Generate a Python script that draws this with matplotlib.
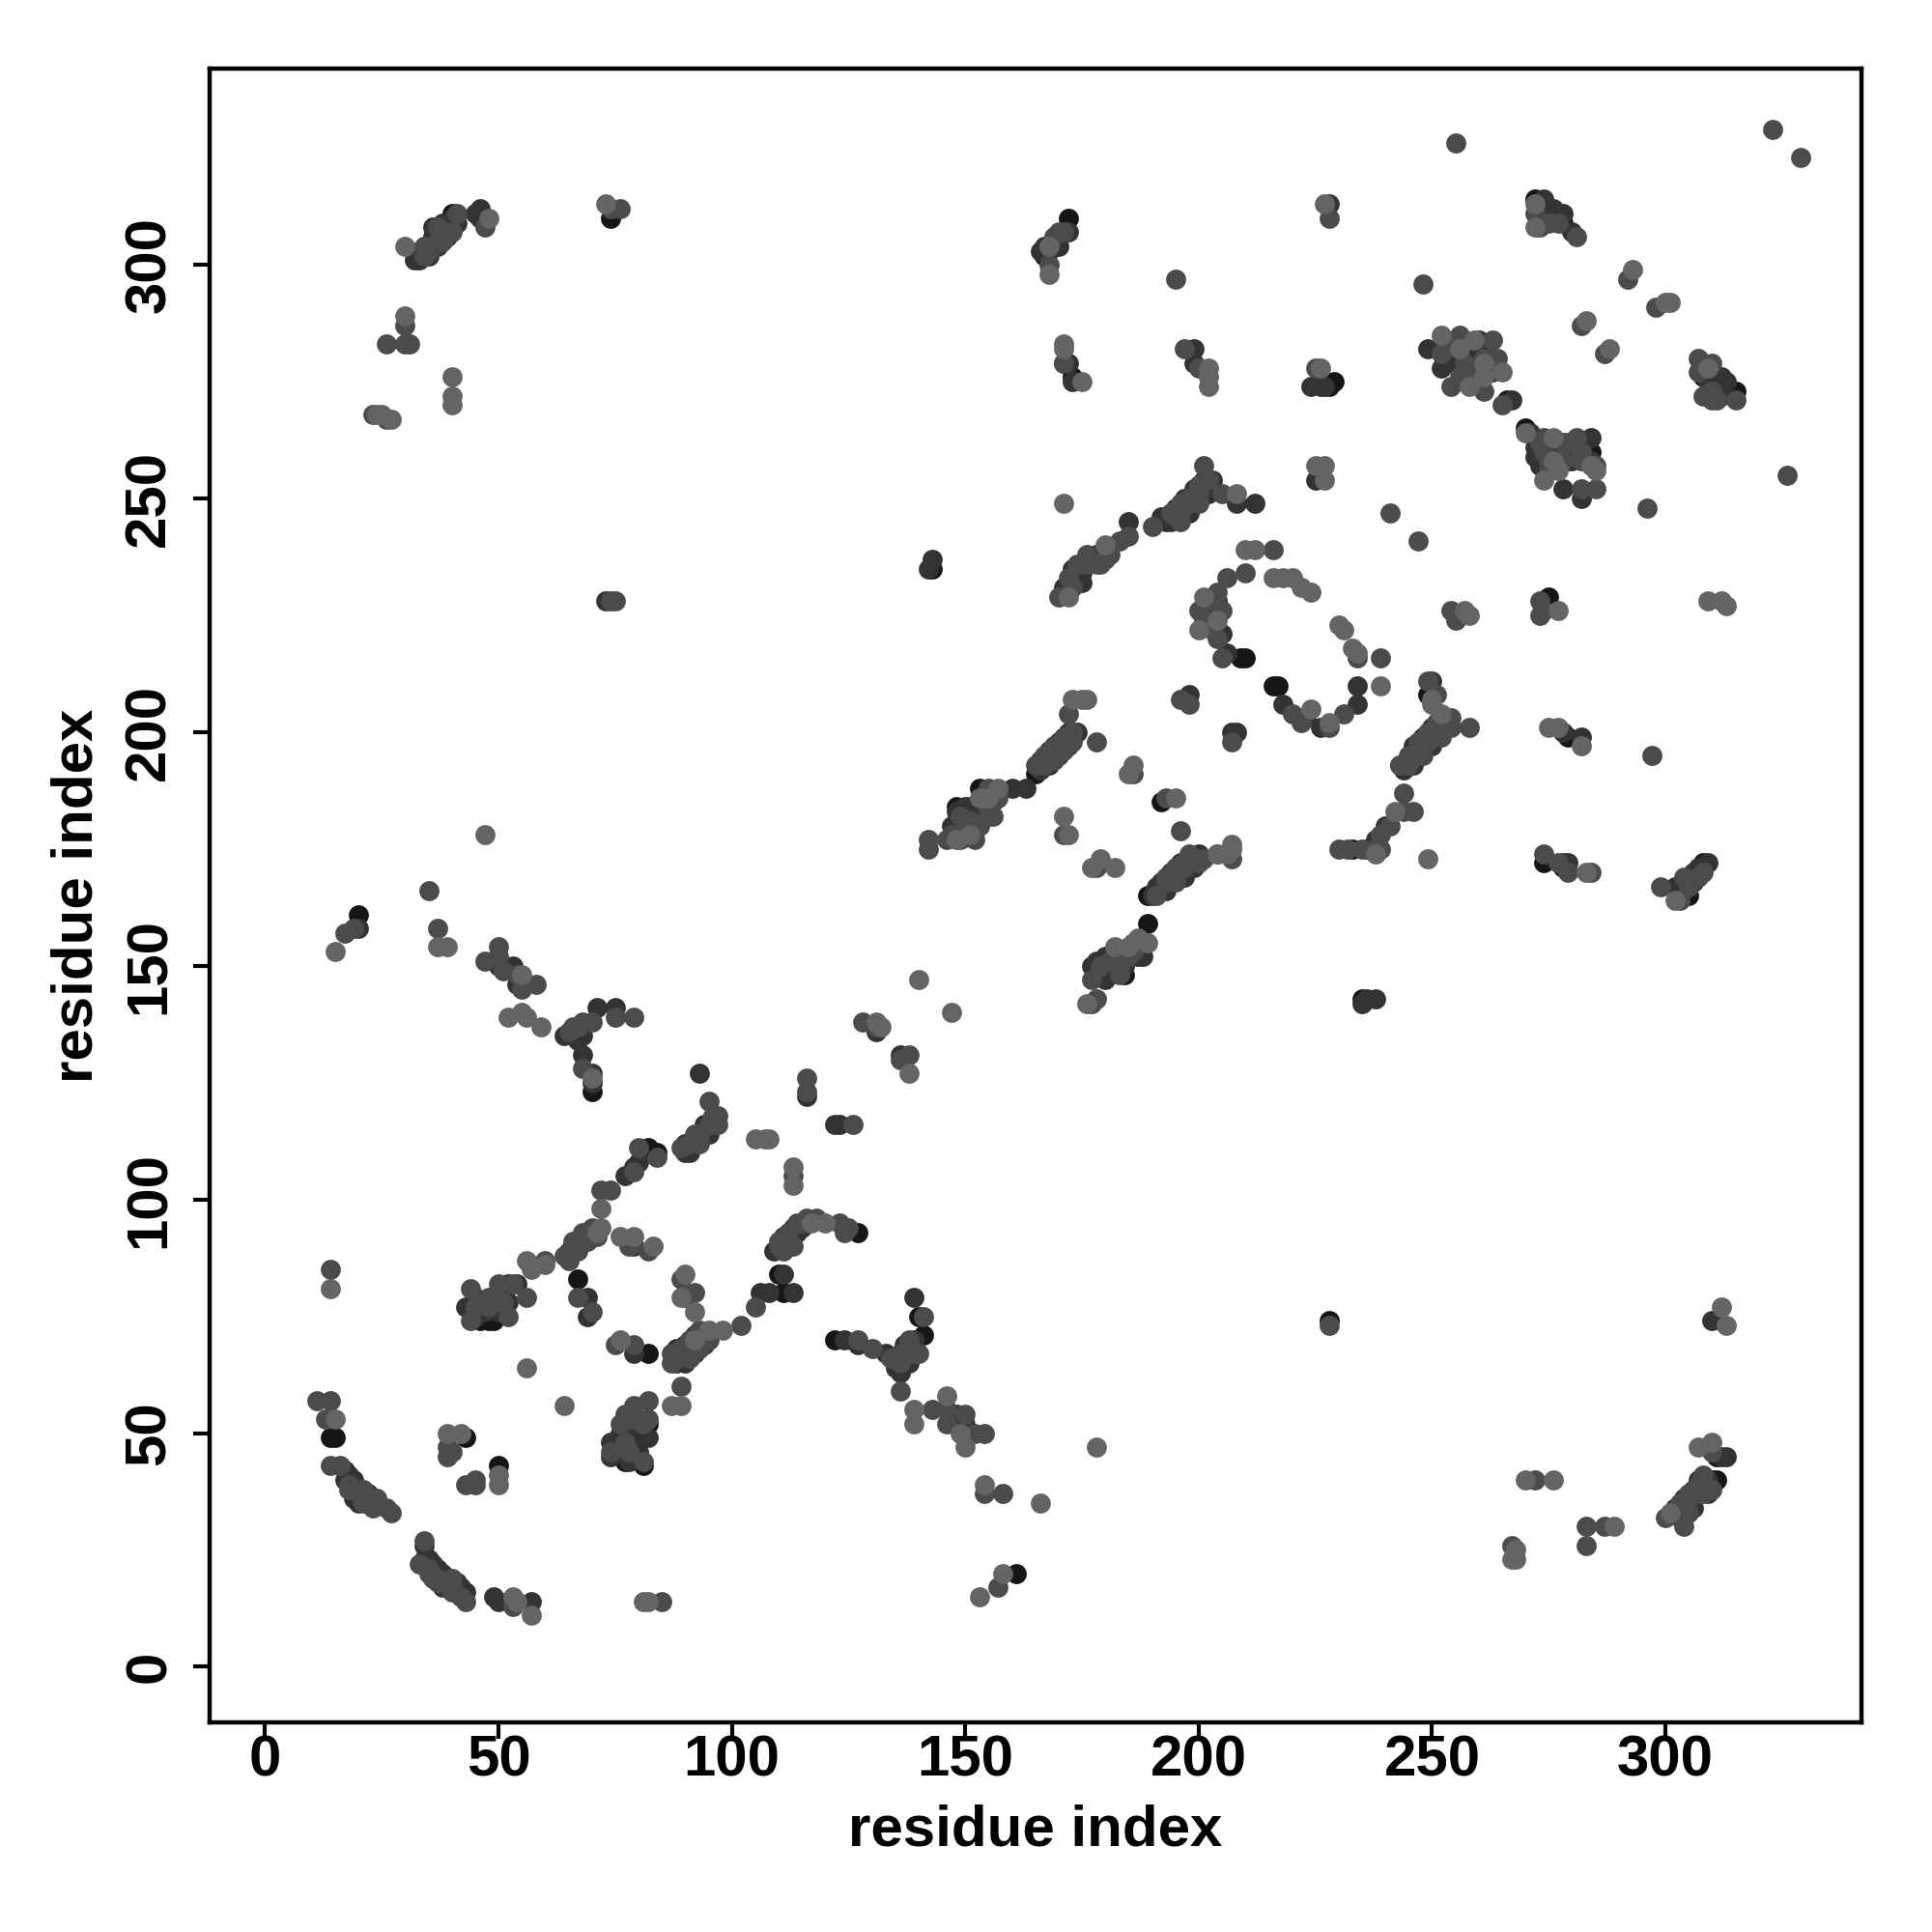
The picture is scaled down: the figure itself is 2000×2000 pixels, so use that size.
import matplotlib
matplotlib.use("Agg")
import matplotlib.pyplot as plt

plt.rcParams['font.family'] = ['Liberation Sans', 'DejaVu Sans']

# contacts (residue i, residue j) by tone
tone_black = [
    (43,49),(82,67),(67,83),(50,43),(82,52),(77,44),(81,43),(161,20),(14,49),(15,49),(20,161),(274,228),(275,229),
    (229,275),(228,274),(217,210),(216,210),(209,216),(210,216),(235,143),(313,273),(315,273),(308,276),(272,314),(274,312),
    (278,309),(311,45),(310,40),(311,40),(81,110),(143,235),(153,188),(148,184),(172,310),(173,276),(165,191),(189,165),
    (184,148),(181,148),(189,159),(192,185),(249,208),(236,175),(233,175),(74,310),(171,279),(274,172),(169,304),(266,271),
    (270,265),(40,311),(308,172),(305,165),(303,167),(111,80),(110,84),(122,70),(141,71),(140,75),(127,93),(70,123),(46,78),(46,74),
    (48,74),(49,74),(68,92),(167,302),(284,260),(260,281),(279,199),(228,74),(82,111),(84,110),(278,171)
]
tone_dark = [
    (34,26),(35,23),(36,22),(37,21),(38,20),(39,18),(41,18),(42,17),(43,16),(17,42),(18,41),(19,40),(20,38),(21,36),(23,35),
    (49,15),(50,14),(57,14),(74,48),(74,45),(78,50),(78,44),(80,49),(82,49),(79,67),(69,75),(69,79),(79,90),(90,79),(89,66),
    (90,67),(91,68),(92,69),(93,70),(106,80),(108,80),(111,84),(113,80),(112,91),(114,93),(115,94),(124,70),(127,69),(133,67),
    (135,64),(137,66),(139,70),(139,79),(148,54),(150,52),(45,79),(47,76),(49,77),(52,82),(52,78),(54,82),(66,90),(67,91),(69,92),
    (77,105),(80,108),(79,107),(90,110),(92,112),(94,114),(96,116),(93,127),(116,122),(122,116),(123,116),(131,136),(136,131),
    (20,158),(50,150),(53,150),(54,146),(64,135),(66,135),(67,134),(68,135),(71,141),(75,141),(68,131),(70,127),(70,125),
    (73,228),(36,306),(38,307),(39,309),(40,310),(45,311),(46,312),(32,301),(33,303),(148,181),(150,184),(152,182),(154,183),(156,185),
    (160,188),(163,188),(166,192),(168,195),(170,197),(172,199),(174,200),(143,237),(142,235),(174,233),(175,234),(178,238),(185,245),
    (193,245),(197,248),(199,250),(201,252),(203,254),(208,249),(212,249),(204,228),(203,224),(206,217),(218,206),(223,203),(226,201),
    (234,206),(234,210),(207,200),(208,200),(198,208),(184,150),(183,152),(187,152),(188,152),(178,151),(180,149),(192,166),(194,169),
    (196,170),(198,172),(200,174),(190,165),(250,211),(252,201),(253,202),(248,197),(246,195),(244,192),(238,177),(240,180),(235,142),
    (236,143),(238,143),(278,200),(279,172),(278,172),(282,199),(302,167),(307,171),(309,172),(306,170),(304,34),(306,36),(307,38),(308,39),
    (309,40),(312,45),(313,45),(310,74),(166,303),(167,304),(170,304),(172,307),(172,279),(173,275),(199,282),(199,279),(224,274),(226,274),
    (227,274),(225,254),(274,314),(274,311),(277,311),(278,311),(280,307),(310,276),(312,276),(311,274),(312,272),(249,282),(252,278),(256,281),
    (258,282),(260,284),(263,277),(267,271),(271,264),(272,261),(278,252),(282,250),(281,260),(284,263),(279,258),(228,313),(46,310)
]
strand_dark = [
    (88,68),(90,69),(92,71),(90,65),(92,67),(94,69),(88,65),(109,89),(111,92),(113,94),(135,66),(137,69),(138,65),(136,63),
    (90,112),(94,116),(91,110),(95,114),(33,301),(35,302),(37,304),(39,306),(36,308),(38,309),(41,309),(17,40),(20,35),(19,36),(22,37),
    (36,20),(38,17),(41,16),(34,23),(147,180),(151,184),(155,184),(153,182),(150,180),(148,183),(166,194),(168,196),(170,198),(172,200),
    (168,193),(170,195),(172,197),(192,168),(194,170),(196,172),(191,167),(193,166),(197,169),(199,171),(177,150),(178,148),(180,147),
    (182,150),(184,153),(180,152),(171,231),(173,235),(175,232),(177,237),(179,238),(192,246),(195,248),(197,250),(199,252),(201,254),
    (194,245),(198,247),(202,251),(243,193),(246,197),(248,199),(250,201),(246,193),(250,197),(302,34),(304,36),(306,38),(303,32),(306,34),
    (309,37),(307,40),(304,166),(306,168),(255,279),(258,277),(262,279),(263,280),(272,259),(277,260),(280,258),(284,258),(276,260),(273,257),
    (309,275),(313,275),(274,310),(276,312),(203,226),(205,221),(76,50),(80,46),(75,47),(43,77),(45,75),(50,76),(51,80),(168,303),(170,306)
]
tone_mid = [
    (14,57),(11,57),(13,53),(14,43),(16,43),(18,39),(19,38),(20,37),(22,36),(21,35),(24,35),(23,34),(26,34),(27,33),(34,27),(33,22),(35,21),
    (36,19),(37,18),(40,19),(40,16),(42,15),(43,14),(53,13),(85,14),(39,47),(40,46),(39,45),(43,39),(45,39),(45,40),(74,46),(77,48),(81,44),(79,53),
    (82,53),(76,52),(89,60),(75,69),(79,69),(67,79),(70,76),(78,90),(82,89),(89,83),(92,80),(87,65),(88,66),(94,71),(102,73),(105,77),(110,90),
    (111,89),(113,90),(116,96),(118,96),(123,95),(125,94),(124,93),(127,70),(130,68),(134,66),(136,65),(140,67),(141,75),(136,59),(143,55),(146,55),
    (146,52),(150,54),(152,50),(154,50),(154,37),(158,37),(157,17),(44,81),(44,74),(45,77),(48,77),(50,82),(52,75),(53,82),(56,79),(60,87),(64,88),(65,89),
    (70,94),(72,102),(74,102),(79,106),(80,111),(84,109),(89,111),(91,112),(93,114),(95,116),(97,118),(95,121),(113,105),(116,126),(116,123),(126,116),
    (128,138),(131,137),(136,130),(138,131),(14,85),(17,157),(19,158),(35,166),(37,158),(47,151),(50,154),(50,152),(51,149),(54,148),(55,145),(58,146),(65,136),
    (66,137),(68,138),(67,137),(75,139),(79,139),(68,128),(70,138),(74,228),(75,228),(74,312),(76,312),(30,287),(26,283),(30,283),(31,283),(23,268),(26,267),
    (34,304),(35,303),(37,305),(38,306),(47,308),(142,177),(142,175),(146,177),(149,177),(152,179),(155,182),(157,187),(165,193),(167,193),(169,196),(171,198),
    (173,200),(172,204),(178,198),(186,191),(193,186),(171,178),(178,171),(196,179),(191,165),(193,168),(195,170),(197,171),(199,173),(204,174),(207,173),(177,142),
    (178,143),(177,147),(183,148),(186,155),(170,229),(173,231),(176,238),(179,236),(181,238),(183,241),(185,242),(190,244),(195,246),(196,247),(198,249),(200,251),
    (201,257),(202,254),(205,251),(206,233),(210,234),(216,239),(203,222),(204,230),(205,216),(200,226),(228,201),(220,204),(222,202),(231,204),(234,216),(239,216),
    (196,207),(198,206),(207,198),(243,193),(245,193),(247,196),(249,198),(251,200),(254,201),(258,201),(249,211),(251,208),(244,187),(244,183),(246,183),(241,180),
    (235,175),(230,175),(232,175),(239,178),(238,175),(239,175),(228,73),(267,26),(283,30),(283,26),(287,30),(272,40),(274,174),(277,172),(279,170),(273,228),(273,225),
    (274,226),(254,226),(255,224),(247,241),(241,247),(296,248),(248,296),(195,297),(297,195),(329,323),(323,329),(299,167),(303,164),(305,168),(300,32),(303,33),
    (305,36),(304,30),(307,37),(310,46),(171,279),(197,282),(200,278),(168,300),(171,307),(225,278),(228,310),(272,311),(273,308),(277,309),(281,306),(282,287),(287,281),
    (292,297),(298,291),(307,280),(310,279),(308,272),(311,271),(315,271),(252,281),(256,285),(259,278),(263,284),(264,280),(254,274),(256,276),(261,273),(265,270),(274,260),
    (275,258),(278,262),(280,262),(285,257),(282,252),(285,252),(326,255),(255,326),(284,170)
]
strand_mid = [
    (65,87),(67,89),(69,91),(71,92),(68,93),(66,91),(89,68),(91,70),(93,72),(91,66),(93,68),(95,70),(87,67),(110,91),(112,93),(114,95),(115,95),
    (136,67),(138,70),(139,67),(92,114),(96,118),(93,112),(97,116),(34,302),(36,304),(38,305),(40,307),(37,308),(41,311),(18,38),(21,38),(24,36),
    (37,19),(40,17),(35,20),(149,182),(155,188),(157,186),(156,182),(149,178),(151,181),(153,180),(155,183),(147,178),(152,177),(167,195),(169,197),
    (171,199),(169,194),(171,196),(173,198),(193,169),(195,171),(197,172),(198,174),(195,168),(200,172),(201,173),(179,150),(181,151),(183,150),(185,152),
    (186,153),(187,155),(182,152),(172,233),(174,236),(176,236),(178,236),(180,237),(194,247),(196,249),(198,250),(200,253),(196,245),(200,249),(245,195),
    (247,198),(249,200),(248,195),(252,199),(251,202),(254,203),(303,35),(305,37),(307,39),(305,33),(308,37),(310,38),(308,41),(305,167),(304,169),(307,169),
    (308,170),(257,279),(260,278),(259,275),(261,280),(253,283),(273,262),(279,262),(282,258),(278,258),(274,263),(275,256),(281,263),(282,260),(310,273),
    (307,277),(310,271),(275,309),(202,228),(205,226),(204,220),(201,224),(78,46),(81,52),(79,56),(82,57),(77,54),(80,53),(47,78),(48,79),(51,78),(169,306),(170,307)
]
tone_light = [
    (15,53),(39,50),(42,50),(50,41),(50,39),(54,14),(57,11),(53,15),(81,14),(82,14),(56,64),(64,56),(87,56),(89,56),(76,70),(79,92),(76,92),(83,90),(90,84),(89,79),(92,76),
    (95,72),(98,72),(92,70),(120,95),(117,95),(139,55),(139,52),(146,58),(149,50),(150,47),(154,39),(166,35),(178,47),(153,15),(158,20),(56,87),(57,85),(60,86),(72,94),(71,93),
    (72,98),(105,113),(107,113),(108,113),(113,107),(113,103),(131,138),(132,137),(138,127),(140,147),(147,140),(14,81),(15,153),(37,154),(39,154),(47,178),(55,148),(52,139),
    (55,140),(56,139),(59,137),(73,313),(70,126),(30,289),(40,276),(40,272),(40,270),(24,268),(25,268),(27,267),(30,304),(48,310),(148,177),(151,178),(157,188),(155,186),(153,186),
    (173,207),(175,207),(176,207),(185,191),(186,193),(195,186),(171,182),(172,178),(177,171),(179,173),(182,171),(204,174),(206,174),(207,175),(207,176),(176,142),(182,154),(185,154),
    (187,156),(189,155),(172,229),(171,249),(180,240),(208,251),(212,239),(210,239),(216,233),(218,233),(220,233),(222,231),(224,230),(230,223),(231,222),(233,218),(234,217),(239,210),
    (228,202),(224,205),(204,224),(200,222),(201,229),(250,207),(252,204),(250,206),(242,183),(238,174),(249,173),(268,25),(267,23),(268,23),(289,30),(270,40),(276,40),
    (275,201),(277,201),(282,197),(283,170),(277,226),(257,226),(258,225),(309,228),(312,228),(313,227),(312,77),(313,73),(302,164),(301,33),(307,47),(310,48),(168,304),(168,298),(171,283),
    (171,282),(175,275),(202,278),(202,276),(202,274),(227,313),(226,278),(225,257),(227,257),(227,254),(272,313),(272,308),(283,288),(288,282),(293,299),(300,292),(301,292),
    (309,278),(252,285),(256,282),(259,284),(261,279),(258,274),(261,276),(265,277),(270,264),(276,263),(276,258),(274,254),(277,256),(284,257),(285,256)
]
tone_colors = ['#161616', '#333333', '#333333', '#4b4b4b', '#4b4b4b', '#646464']
x_ticks = [0, 50, 100, 150, 200, 250, 300]
y_ticks = [0, 50, 100, 150, 200, 250, 300]

fig = plt.figure(figsize=(10, 10), dpi=200)
ax = fig.add_axes([217/2000, 1-1783/2000, (1927-217)/2000, (1783-71)/2000])

layers = [tone_black, tone_dark, strand_dark, tone_mid, strand_mid, tone_light]
for tone, colour in zip(layers, tone_colors):
    ax.scatter([p[0] for p in tone], [p[1] for p in tone], s=56, c=colour, linewidths=0, zorder=3)

ax.set_xlim(-11.9, 342)
ax.set_ylim(-11.9, 342)
ax.set_xticks(x_ticks)
ax.set_yticks(y_ticks)
ax.tick_params(axis='both', length=6, width=1.5, labelsize=21.6)
ax.tick_params(axis='x', pad=-1.5)
ax.tick_params(axis='y', pad=6.3)
for label in ax.get_xticklabels() + ax.get_yticklabels():
    label.set_fontweight('bold')
for label in ax.get_yticklabels():
    label.set_rotation(90)
    label.set_va('center')
for spine in ax.spines.values():
    spine.set_linewidth(1.6)
ax.set_xlabel('residue index', fontsize=21.6, fontweight='bold', labelpad=6)
ax.set_ylabel('residue index', fontsize=21.6, fontweight='bold', labelpad=7.4)
fig.savefig('out.png', dpi=200, facecolor='white')
